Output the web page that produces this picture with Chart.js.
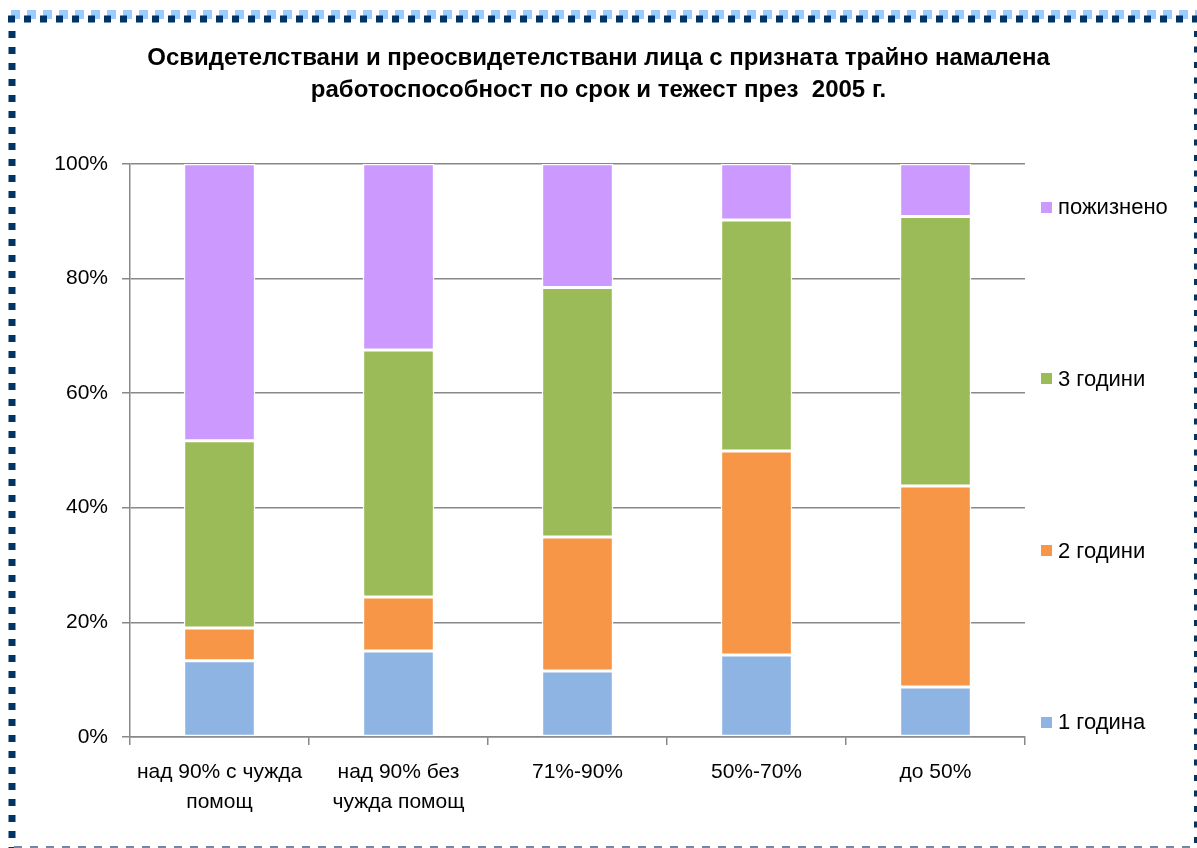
<!DOCTYPE html>
<html>
<head>
<meta charset="utf-8">
<script src="https://cdn.jsdelivr.net/npm/chart.js@4"></script>
<style>
  html, body { margin: 0; padding: 0; background: #fff; }
  #wrap { position: relative; width: 1197px; height: 848px; }
  #legend { position: absolute; left: 1041px; top: 196px; margin: 0; padding: 0; list-style: none;
            font: 22px "Liberation Sans", Arial, sans-serif; color: #000; }
  #legend li { height: 22px; line-height: 22px; margin-bottom: 149.8px; display: flex; align-items: center; }
  #legend span.box { display: inline-block; width: 11px; height: 11px; margin-right: 6px; }
</style>
</head>
<body>
<div id="wrap">
  <canvas id="chart" width="1197" height="848"></canvas>
  <ul id="legend"></ul>
</div>
<script>
const categories = [
  ['над 90% с чужда', 'помощ'],
  ['над 90% без', 'чужда помощ'],
  '71%-90%',
  '50%-70%',
  'до 50%'
];
const seriesNames = ['1 година', '2 години', '3 години', 'пожизнено'];
const oneYear = [13.3, 15.0, 11.5, 14.3, 8.7];
const twoYears = [5.7, 9.4, 23.4, 35.6, 35.1];
const threeYears = [32.7, 43.1, 43.5, 40.3, 47.0];
const lifelong = [48.3, 32.5, 21.6, 9.8, 9.2];
const colors = ['#8EB4E3', '#F79646', '#9BBB59', '#CC99FF'];
const yTicks = [0, 20, 40, 60, 80, 100];

const font = '"Liberation Sans", Arial, sans-serif';
const gridColor = '#888888';

// dashed frame around the picture
const framePlugin = {
  id: 'frame',
  beforeDraw(chart) {
    const ctx = chart.ctx;
    ctx.save();
    // light blue band on top
    ctx.strokeStyle = '#99CCFF';
    ctx.lineWidth = 9;
    ctx.setLineDash([9, 7]);
    ctx.beginPath(); ctx.moveTo(11, 14.5); ctx.lineTo(1197, 14.5); ctx.stroke();
    // dark squares top, left, right
    ctx.strokeStyle = '#003366';
    ctx.lineWidth = 7;
    ctx.setLineDash([7, 9]);
    ctx.beginPath(); ctx.moveTo(8, 19); ctx.lineTo(1197, 19); ctx.stroke();
    ctx.beginPath(); ctx.moveTo(12, 31); ctx.lineTo(12, 848); ctx.stroke();
    ctx.lineWidth = 6;
    ctx.setLineDash([6, 9.5]);
    ctx.beginPath(); ctx.moveTo(1197, 31); ctx.lineTo(1197, 848); ctx.stroke();
    // thin bottom line
    ctx.strokeStyle = '#7088A4';
    ctx.lineWidth = 2;
    ctx.setLineDash([8, 8]);
    ctx.beginPath(); ctx.moveTo(14, 847); ctx.lineTo(1190, 847); ctx.stroke();
    ctx.restore();
  }
};

const data = [oneYear, twoYears, threeYears, lifelong];
const chart = new Chart(document.getElementById('chart'), {
  type: 'bar',
  data: {
    labels: categories,
    datasets: data.map((d, i) => ({
      label: seriesNames[i],
      data: d,
      backgroundColor: colors[i],
      borderColor: '#ffffff',
      borderWidth: 1.5,
      borderSkipped: false,
      categoryPercentage: 1,
      barPercentage: 0.4
    }))
  },
  options: {
    responsive: false,
    animation: false,
    layout: { padding: { top: 42, right: 0, bottom: 19, left: 0 } },
    plugins: {
      legend: { display: false },
      tooltip: { enabled: false },
      title: {
        display: true,
        text: ['Освидетелствани и преосвидетелствани лица с призната трайно намалена',
               'работоспособност по срок и тежест през  2005 г.'],
        color: '#000',
        font: { family: font, size: 24, weight: 'bold', lineHeight: 1.35 },
        padding: { top: 0, bottom: 57 }
      }
    },
    scales: {
      x: {
        stacked: true,
        grid: { display: true, drawOnChartArea: false, offset: true, tickLength: 8, color: gridColor, lineWidth: 1.5 },
        border: { color: gridColor, width: 1.5 },
        ticks: { color: '#000', font: { family: font, size: 21, lineHeight: 1.43 }, padding: 12, maxRotation: 0 }
      },
      y: {
        stacked: true,
        min: 0,
        max: 100,
        afterBuildTicks(scale) { scale.ticks = yTicks.map(v => ({ value: v })); },
        afterFit(scale) { scale.width = 130; },
        grid: { color: gridColor, lineWidth: 1.5, tickLength: 8 },
        border: { color: gridColor, width: 1.5 },
        ticks: { color: '#000', font: { family: font, size: 21 }, padding: 14, callback: v => v + '%' }
      },
      // empty right-hand column that holds the legend space
      legendSpace: {
        position: 'right',
        display: true,
        grid: { display: false },
        border: { display: false },
        ticks: { display: false },
        afterFit(scale) { scale.width = 172; }
      }
    }
  },
  plugins: [framePlugin]
});

// legend, reversed like the reference
const legend = document.getElementById('legend');
chart.data.datasets.slice().reverse().forEach(ds => {
  const li = document.createElement('li');
  const box = document.createElement('span');
  box.className = 'box';
  box.style.background = ds.backgroundColor;
  li.appendChild(box);
  li.appendChild(document.createTextNode(ds.label));
  legend.appendChild(li);
});
</script>
</body>
</html>
